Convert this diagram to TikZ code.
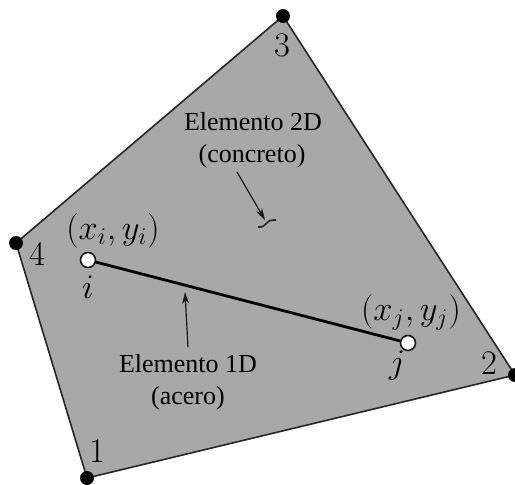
\documentclass[tikz,border=0pt]{standalone}
\usepackage{tikz}
\usepackage{fontspec}
\usetikzlibrary{arrows.meta}

\newfontfamily\labelfont{Liberation Serif}

\tikzset{
  corner/.style={circle,fill=black,inner sep=0pt,minimum size=7pt},
  endpt/.style={circle,draw=black!90,fill=white,line width=0.8pt,inner sep=0pt,minimum size=7.5pt},
  lbl/.style={font=\LARGE,text=black,inner sep=0pt},
  txt/.style={font=\labelfont\fontsize{13}{15}\selectfont,text=black,inner sep=0pt},
  ptr/.style={draw=black!90,line width=0.6pt,-{Stealth[length=6pt,width=3.5pt]}}
}

\begin{document}
\begin{tikzpicture}[x=0.5pt,y=-0.5pt]

\useasboundingbox (0,0) rectangle (515,484);

\coordinate (c1) at (87,478);
\coordinate (c2) at (515,375);
\coordinate (c3) at (283,16);
\coordinate (c4) at (16,243);

\fill[black!34] (c1) -- (c2) -- (c3) -- (c4) -- cycle;
\draw[black!85,line width=0.8pt] (c1) -- (c2) -- (c3) -- (c4) -- cycle;

\node[corner] (p1) at (c1) {};
\node[corner] (p2) at (c2) {};
\node[corner] (p3) at (c3) {};
\node[corner] (p4) at (c4) {};

\node[lbl] (n1) at (97,451) {$1$};
\node[lbl] (n2) at (489,363) {$2$};
\node[lbl] (n3) at (282,45) {$3$};
\node[lbl] (n4) at (37,254) {$4$};

\node[endpt] (i) at (88,260) {};
\node[endpt] (j) at (408,343) {};
\draw[black,line width=1.4pt] (i) -- (j);

\node[lbl] (xi) at (113,231) {$(x_i,y_i)$};
\node[lbl] (xj) at (411,312) {$(x_j,y_j)$};
\node[lbl] (li) at (88,287) {$i$};
\node[lbl] (lj) at (397,366) {$j$};

\node[txt] (t2a) at (253,122) {Elemento 2D};
\node[txt] (t2b) at (252,156) {(concreto)};
\node[txt] (t1a) at (188,364) {Elemento 1D};
\node[txt] (t1b) at (188,398) {(acero)};

\coordinate (a2) at (237,172);
\coordinate (b2) at (265,220);
\coordinate (a1) at (188,347);
\coordinate (b1) at (185,292);
\draw[ptr] (a2) -- (b2);
\draw[ptr] (a1) -- (b1);

% squiggle at arrow end
\coordinate (s1) at (258,227);
\coordinate (s2) at (276,220);
\draw[black!85,line width=0.8pt] (s1) .. controls (268,228) and (264,219) .. (s2);

\end{tikzpicture}
\end{document}
